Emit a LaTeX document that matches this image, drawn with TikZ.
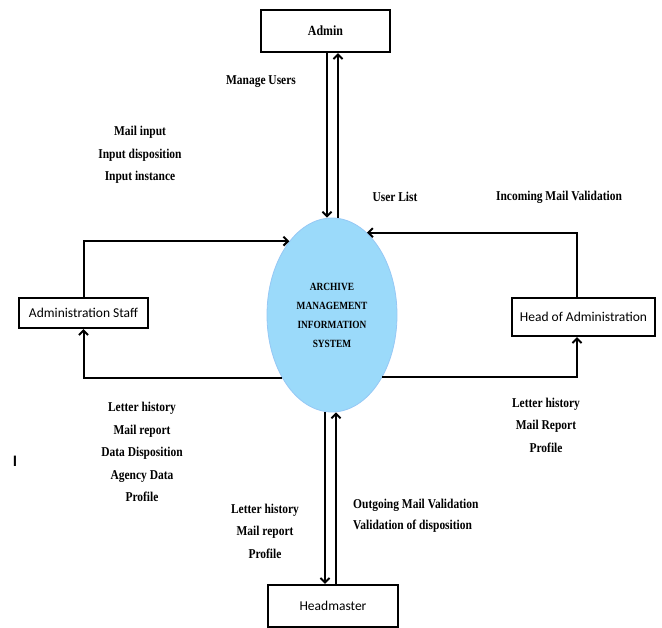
\documentclass[tikz,border=0pt]{standalone}
\usepackage{fontspec}
\usetikzlibrary{arrows.meta,shapes.geometric,calc}
\newfontfamily\lblfont[FakeStretch=0.85]{Liberation Serif}
\newfontfamily\boxfont{Carlito}
\definecolor{amsfill}{RGB}{155,218,250}
\definecolor{amsline}{RGB}{150,200,245}
\tikzset{
  ent/.style={draw=black,line width=2.2pt,rectangle,inner sep=0pt,fill=white},
  entsans/.style={ent,font=\boxfont\fontsize{13.5}{15}\selectfont},
  entserif/.style={ent,font=\lblfont\bfseries\fontsize{14}{16}\selectfont},
  lbl/.style={align=center,inner sep=0pt,font=\lblfont\bfseries\fontsize{13.5}{22.5}\selectfont},
  flow/.style={draw=black,line width=2pt,-{Straight Barb[length=4.5pt,width=9pt]}},
}
\begin{document}
\begin{tikzpicture}[x=1pt,y=-1pt]
\useasboundingbox (0,0) rectangle (662,628);
% process
\node[ellipse,fill=amsfill,draw=amsline,line width=0.8pt,minimum width=130pt,minimum height=194pt,inner sep=0pt,
      align=center,font=\lblfont\bfseries\fontsize{11}{19}\selectfont] (ams) at (332,315)
  {ARCHIVE\\MANAGEMENT\\INFORMATION\\SYSTEM};
% entities
\node[entserif,minimum width=129pt,minimum height=42pt] (admin) at (325.5,31) {Admin};
\node[entsans,minimum width=129pt,minimum height=30pt] (staff) at (83.5,313) {Administration Staff};
\node[entsans,minimum width=143pt,minimum height=38pt] (head) at (583.5,317) {Head of Administration};
\node[entsans,minimum width=130pt,minimum height=42pt] (hm) at (333,606) {Headmaster};
% admin flows
\draw[flow] ([xshift=-5pt]ams.north |- admin.south) -- ([xshift=-5pt]ams.north);
\draw[flow] ([xshift=6pt]ams.north) -- ([xshift=6pt]ams.north |- admin.south);
% staff flows
\draw[flow] (staff.north) |- (ams.120);
\draw[flow] (ams.232) -| (staff.south);
% head flows
\draw[flow] ([xshift=-6.5pt]head.north) |- (ams.67);
\draw[flow] (ams.309) -| ([xshift=-6.5pt]head.south);
% headmaster flows
\draw[flow] ([xshift=-7pt]ams.south) -- ([xshift=-7pt]ams.south |- hm.north);
\draw[flow] ([xshift=4pt]ams.south |- hm.north) -- ([xshift=4pt]ams.south);
% labels
\node[lbl] (lmanage) at (261,82) {Manage Users};
\node[lbl] (lmailin) at (140,155) {Mail input\\Input disposition\\Input instance};
\node[lbl] (luser) at (395,197) {User List};
\node[lbl] (linc) at (559,197) {Incoming Mail Validation};
\node[lbl] (lstaff) at (142,452) {Letter history\\Mail report\\Data Disposition\\Agency Data\\Profile};
\node[lbl] (lhm) at (265,531) {Letter history\\Mail report\\Profile};
\node[lbl,align=left,anchor=west,font=\lblfont\bfseries\fontsize{13.5}{21}\selectfont] (lout) at (353,515.5) {Outgoing Mail Validation\\Validation of disposition};
\node[lbl] (lhead) at (546,425) {Letter history\\Mail Report\\Profile};
\node[inner sep=0pt,font=\boxfont\bfseries\fontsize{16}{16}\selectfont] (bar) at (15,461) {I};
\end{tikzpicture}
\end{document}
